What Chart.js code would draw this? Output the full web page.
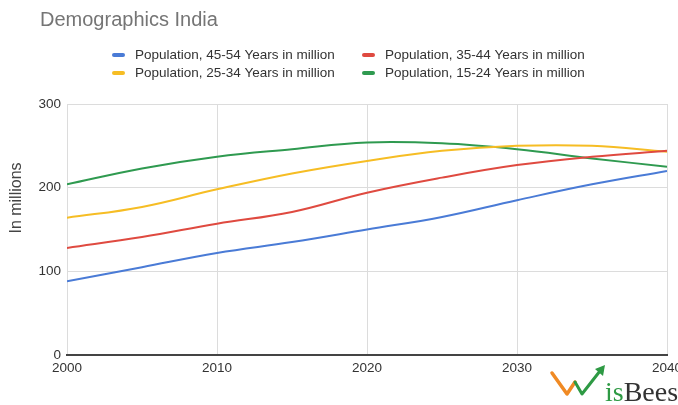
<!DOCTYPE html>
<html>
<head>
<meta charset="utf-8">
<title>Demographics India</title>
<script src="https://cdn.jsdelivr.net/npm/chart.js@4.4.1/dist/chart.umd.min.js"></script>
<style>
  html, body { margin: 0; padding: 0; background: #fff; }
  #wrap { width: 678px; height: 405px; position: relative; }
</style>
</head>
<body>
<div id="wrap"><canvas id="demoChart"></canvas></div>
<script>
/* ===================== DATA ===================== */
const years = [2000, 2005, 2010, 2015, 2020, 2025, 2030, 2035, 2040];

const pop45to54 = [88, 105, 122, 135, 150, 165, 185, 204, 220];
const pop35to44 = [128, 141, 157, 171, 194, 212, 227, 237, 244];
const pop25to34 = [164, 177, 198, 217, 232, 244, 250, 250, 243];
const pop15to24 = [204, 223, 237, 246, 254, 253, 246, 235, 225];

const seriesLabels = [
  "Population, 45-54 Years in million",
  "Population, 35-44 Years in million",
  "Population, 25-34 Years in million",
  "Population, 15-24 Years in million"
];
const seriesColors = ["#4a7bd6", "#df4a40", "#f6bd24", "#2f9a50"];

const yMin = 0, yMax = 300, yStep = 100;
const xMin = 2000, xMax = 2040, xStep = 10;

const FONT = "'Liberation Sans', Arial, sans-serif";

/* ===================== HELPERS ===================== */
function toPoints(values) {
  return values.map((v, i) => ({ x: years[i], y: v }));
}

function makeDataset(idx, values) {
  return {
    label: seriesLabels[idx],
    data: toPoints(values),
    borderColor: seriesColors[idx],
    backgroundColor: seriesColors[idx],
    borderWidth: 2,
    pointRadius: 0,
    tension: 0.4,
    fill: false
  };
}

/* ===================== EXTRA DRAWING ===================== */
// title, two-row legend, y axis caption and the brand mark
const decorations = {
  id: "decorations",
  afterDraw(chart) {
    const ctx = chart.ctx;
    ctx.save();

    // title
    ctx.fillStyle = "#757575";
    ctx.font = "20px " + FONT;
    ctx.textAlign = "left";
    ctx.textBaseline = "middle";
    ctx.fillText("Demographics India", 40, 20);

    // legend
    const colX = [112, 362];
    const rowY = [55, 73];
    ctx.font = "13.5px " + FONT;
    chart.data.datasets.forEach((ds, i) => {
      const x = colX[i % 2];
      const y = rowY[Math.floor(i / 2)];
      ctx.fillStyle = ds.borderColor;
      ctx.beginPath();
      ctx.roundRect(x, y - 2, 13, 4, 2);
      ctx.fill();
      ctx.fillStyle = "#333";
      ctx.fillText(ds.label, x + 23, y);
    });

    // y axis caption
    ctx.save();
    ctx.translate(17, 198);
    ctx.rotate(-Math.PI / 2);
    ctx.textAlign = "center";
    ctx.fillStyle = "#444";
    ctx.font = "16px " + FONT;
    ctx.fillText("In millions", 0, 0);
    ctx.restore();

    // brand mark
    ctx.lineCap = "round";
    ctx.lineJoin = "round";
    ctx.lineWidth = 3.5;
    ctx.strokeStyle = "#f08a24";
    ctx.beginPath();
    ctx.moveTo(552, 373);
    ctx.lineTo(567, 394);
    ctx.lineTo(575, 382);
    ctx.stroke();
    ctx.lineWidth = 3;
    ctx.strokeStyle = "#2e9a44";
    ctx.beginPath();
    ctx.moveTo(575, 382);
    ctx.lineTo(582, 394);
    ctx.lineTo(600, 371);
    ctx.stroke();
    ctx.fillStyle = "#2e9a44";
    ctx.beginPath();
    ctx.moveTo(605, 365);
    ctx.lineTo(595, 369);
    ctx.lineTo(603, 376);
    ctx.closePath();
    ctx.fill();

    ctx.textBaseline = "alphabetic";
    ctx.font = "28px 'Liberation Serif', 'Times New Roman', serif";
    ctx.fillStyle = "#2e9a44";
    ctx.fillText("is", 605, 401);
    const isW = ctx.measureText("is").width;
    ctx.fillStyle = "#333";
    ctx.fillText("Bees", 605 + isW, 401);

    ctx.restore();
  }
};

/* ===================== CHART ===================== */
const demoChart = new Chart(document.getElementById("demoChart"), {
  type: "line",
  data: {
    datasets: [
      makeDataset(0, pop45to54),
      makeDataset(1, pop35to44),
      makeDataset(2, pop25to34),
      makeDataset(3, pop15to24)
    ]
  },
  options: {
    responsive: true,
    maintainAspectRatio: false,
    animation: false,
    layout: {
      padding: { top: 104, right: 11, bottom: 0, left: 0 }
    },
    plugins: {
      legend: { display: false },
      title: { display: false },
      tooltip: { enabled: false }
    },
    scales: {
      x: {
        type: "linear",
        min: xMin,
        max: xMax,
        afterFit(scale) {
          scale.height = 50;
          scale.paddingLeft = 0;
          scale.paddingRight = 0;
        },
        border: { display: true, color: "#444", width: 2 },
        grid: { color: "#dcdcdc", lineWidth: 1, drawTicks: false },
        ticks: {
          stepSize: xStep,
          padding: 5,
          color: "#333",
          font: { family: FONT, size: 13.5 },
          maxRotation: 0,
          callback: (value) => String(value)
        }
      },
      y: {
        min: yMin,
        max: yMax,
        afterFit(scale) {
          scale.width = 67;
          scale.paddingTop = 0;
          scale.paddingBottom = 0;
        },
        border: { display: false },
        grid: { color: "#dcdcdc", lineWidth: 1, drawTicks: false },
        ticks: {
          stepSize: yStep,
          padding: 6,
          color: "#333",
          font: { family: FONT, size: 13.5 }
        }
      }
    }
  },
  plugins: [decorations]
});
</script>
</body>
</html>
